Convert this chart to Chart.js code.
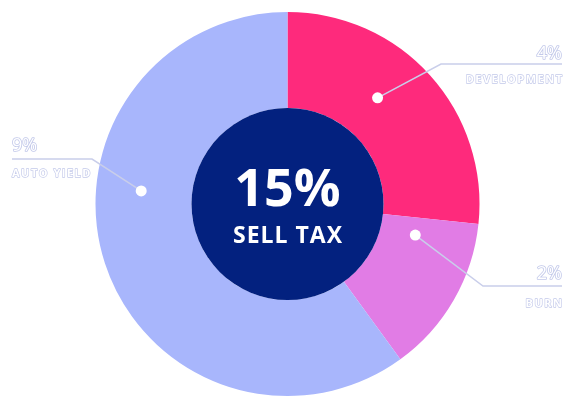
<!DOCTYPE html>
<html>
<head>
<meta charset="utf-8">
<script src="https://cdn.jsdelivr.net/npm/chart.js@4"></script>
<style>
  html, body { margin: 0; padding: 0; background: #ffffff; }
  #wrap { width: 575px; height: 408px; position: relative; }
</style>
</head>
<body>
<div id="wrap"><canvas id="c" width="575" height="408"></canvas></div>
<script>
// ---- data ----
const categories = ["DEVELOPMENT", "BURN", "AUTO YIELD"];
const taxValues = [4, 2, 9];
const valueLabels = ["4%", "2%", "9%"];
const centerValue = "15%";
const centerLabel = "SELL TAX";

// ---- styling / annotation geometry ----
const sliceColors = ["#FE2A7C", "#E17CE5", "#A8B6FC"];
// anchor: fraction along slice angle, fraction across ring; elbow & end of leader line; side of text
const labelGeom = [
  { along: 0.42, across: 0.45, elbow: [441, 64],  endX: 562, side: "right", pctY: 59,  nameY: 83 },
  { along: 0.16, across: 0.37, elbow: [483, 286], endX: 562, side: "right", pctY: 279, nameY: 307 },
  { along: 0.607, across: 0.53, elbow: [92, 159], endX: 12,  side: "left",  pctY: 151, nameY: 177 }
];

const overlay = {
  id: "overlay",
  afterDatasetsDraw(chart) {
    const ctx = chart.ctx;
    const meta = chart.getDatasetMeta(0);
    const arc0 = meta.data[0];
    const cx = arc0.x, cy = arc0.y;
    const inner = arc0.innerRadius, outer = arc0.outerRadius;

    // center disc
    ctx.save();
    ctx.beginPath();
    ctx.arc(cx, cy, inner, 0, Math.PI * 2);
    ctx.fillStyle = "#03217F";
    ctx.fill();
    ctx.fillStyle = "#ffffff";
    ctx.textAlign = "center";
    ctx.textBaseline = "alphabetic";
    ctx.font = "bold 52px 'Open Sans'";
    ctx.fillText(centerValue, cx, cy + 2);
    ctx.font = "bold 23px 'Open Sans'";
    ctx.letterSpacing = "1px";
    ctx.fillText(centerLabel, cx + 0.5, cy + 39);
    ctx.restore();

    // labels with leader lines
    meta.data.forEach((arc, i) => {
      const g = labelGeom[i];
      const a = arc.startAngle + (arc.endAngle - arc.startAngle) * g.along;
      const r = inner + (outer - inner) * g.across;
      const px = cx + Math.cos(a) * r;
      const py = cy + Math.sin(a) * r;

      ctx.save();
      ctx.strokeStyle = "#C9CEEA";
      ctx.lineWidth = 1.5;
      ctx.beginPath();
      ctx.moveTo(px, py);
      ctx.lineTo(g.elbow[0], g.elbow[1]);
      ctx.lineTo(g.endX, g.elbow[1]);
      ctx.stroke();

      ctx.beginPath();
      ctx.arc(px, py, 5.5, 0, Math.PI * 2);
      ctx.fillStyle = "#ffffff";
      ctx.fill();

      ctx.textAlign = g.side === "right" ? "right" : "left";
      ctx.textBaseline = "alphabetic";
      ctx.lineJoin = "round";
      // percent
      ctx.font = "18px 'Open Sans'";
      ctx.lineWidth = 1.6;
      ctx.strokeStyle = "#C3C9EA";
      ctx.fillStyle = "#ffffff";
      ctx.strokeText(valueLabels[i], g.endX, g.pctY);
      ctx.fillText(valueLabels[i], g.endX, g.pctY);
      // name
      ctx.font = "bold 11px 'Open Sans'";
      ctx.letterSpacing = "1.5px";
      const nx = g.side === "right" ? g.endX + 1.5 : g.endX;
      ctx.lineWidth = 1.3;
      ctx.strokeText(categories[i], nx, g.nameY);
      ctx.fillText(categories[i], nx, g.nameY);
      ctx.restore();
    });
  }
};

new Chart(document.getElementById("c"), {
  type: "doughnut",
  data: {
    labels: categories,
    datasets: [{
      data: taxValues,
      backgroundColor: sliceColors,
      borderWidth: 0,
      hoverOffset: 0
    }]
  },
  options: {
    responsive: false,
    animation: false,
    cutout: "50%",
    layout: { padding: { top: 12, bottom: 12, left: 0, right: 0 } },
    plugins: {
      legend: { display: false },
      tooltip: { enabled: false }
    }
  },
  plugins: [overlay]
});
</script>
</body>
</html>
